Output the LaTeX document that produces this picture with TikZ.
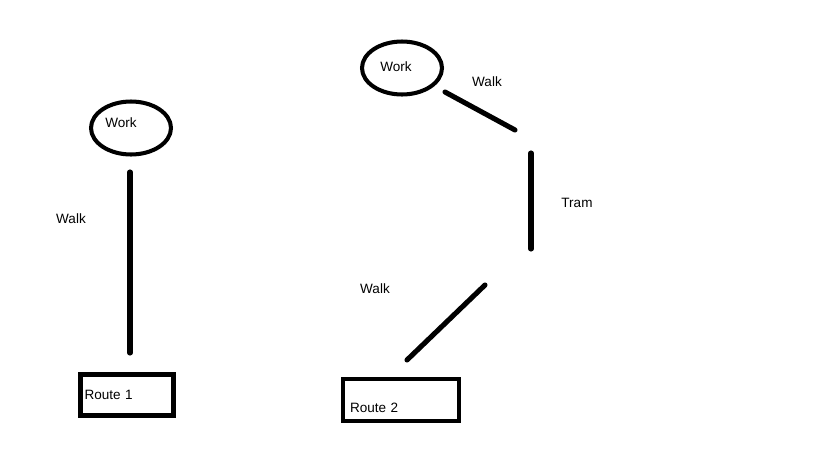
\documentclass[tikz,border=0pt]{standalone}
\usepackage{fontspec}
\setmainfont{Liberation Sans}
\usetikzlibrary{shapes,positioning}

\begin{document}
\begin{tikzpicture}[x=0.02cm,y=-0.02cm,
  place/.style={draw, ellipse, line width=2.3pt, minimum width=1.6cm, minimum height=1.06cm, inner sep=0pt},
  route/.style={draw, rectangle, line width=2.5pt, align=left, inner xsep=0.08cm, inner ysep=0.06cm, font=\fontsize{7.7}{9}\selectfont},
  leg/.style={line width=2.9pt, line cap=round},
  lbl/.style={font=\fontsize{7.7}{9}\selectfont}]
\useasboundingbox (0,0) rectangle (819,460);

% route 1
\node[place] (work1) at (131,128) {};
\node[lbl] (work1t) at (121,123) {Work};
\node[route, text width=1.7cm, minimum height=0.82cm] (route1) at (127,395) {Route 1};
\coordinate (w1a) at (130,172);
\coordinate (w1b) at (130,353);
\draw[leg] (w1a) -- (w1b);
\node[lbl] (walk1) at (71,219) {Walk};

% route 2
\node[place] (work2) at (402,68) {};
\node[lbl] (work2t) at (396,67) {Work};
\node[route, text width=2.04cm, inner xsep=0.14cm, minimum height=0.84cm, text height=0.6cm, text depth=0.1cm] (route2) at (401,400) {Route 2};
\coordinate (w2a) at (445,92);
\coordinate (w2b) at (515,130);
\coordinate (t2a) at (531,153);
\coordinate (t2b) at (531,249);
\coordinate (w3a) at (485,285);
\coordinate (w3b) at (407,360);
\draw[leg] (w2a) -- (w2b);
\draw[leg] (t2a) -- (t2b);
\draw[leg] (w3a) -- (w3b);
\node[lbl] (walk2) at (487,82) {Walk};
\node[lbl] (tram) at (577,203) {Tram};
\node[lbl] (walk3) at (375,289) {Walk};
\end{tikzpicture}
\end{document}
